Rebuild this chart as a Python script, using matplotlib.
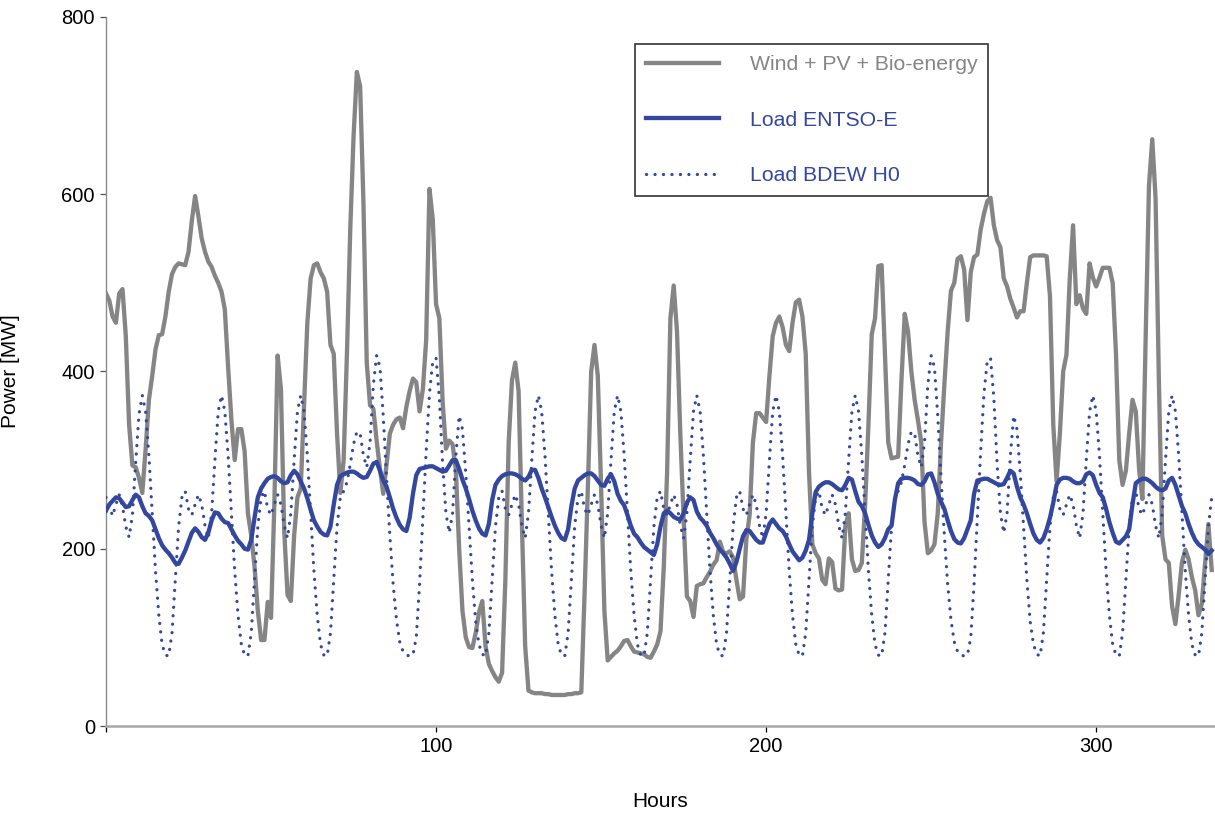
import numpy as np
import matplotlib
matplotlib.use("Agg")
import matplotlib.pyplot as plt

plt.rcParams['font.family'] = ['Liberation Sans', 'DejaVu Sans']

# ---------------- data (hourly, 14 days) ----------------
hours = np.arange(336)

res_generation = [
    488, 480, 462, 455, 488, 493, 440, 340, 294, 292, 280, 263, 312, 368, 395, 425, 441, 442, 462, 490, 510, 518, 522, 521,
    520, 535, 570, 598, 575, 550, 535, 524, 518, 508, 500, 490, 470, 405, 345, 300, 335, 335, 310, 240, 215, 180, 130, 97,
    97, 140, 122, 250, 418, 380, 220, 148, 141, 215, 258, 268, 360, 455, 505, 520, 522, 512, 505, 490, 430, 420, 330, 263,
    300, 420, 560, 665, 738, 722, 590, 410, 362, 358, 322, 290, 262, 295, 330, 340, 346, 348, 336, 360, 378, 392, 388, 355,
    380, 435, 606, 572, 476, 460, 365, 313, 322, 318, 288, 200, 130, 100, 89, 88, 105, 128, 141, 90, 70, 62, 55, 50,
    60, 165, 320, 390, 410, 378, 230, 90, 40, 38, 37, 37, 37, 36, 36, 35, 35, 35, 35, 35, 36, 36, 37, 37,
    38, 150, 270, 400, 430, 395, 270, 130, 74, 78, 82, 85, 90, 96, 97, 90, 84, 83, 82, 81, 78, 77, 84, 92,
    107, 180, 286, 460, 497, 445, 330, 235, 146, 141, 123, 158, 160, 161, 168, 174, 182, 187, 208, 196, 195, 197, 190, 165,
    143, 146, 210, 238, 320, 353, 353, 348, 343, 395, 440, 455, 462, 450, 430, 423, 455, 478, 481, 462, 420, 286, 205, 195,
    189, 165, 160, 189, 185, 155, 153, 154, 225, 240, 188, 175, 176, 184, 250, 340, 442, 460, 519, 520, 420, 320, 302, 303,
    304, 390, 465, 445, 400, 368, 345, 320, 230, 195, 198, 205, 240, 320, 385, 445, 491, 500, 527, 530, 515, 458, 512, 529,
    532, 560, 578, 592, 596, 565, 548, 540, 505, 496, 482, 472, 461, 468, 468, 500, 529, 531, 531, 531, 531, 530, 485, 340,
    276, 330, 400, 419, 505, 565, 476, 486, 471, 465, 522, 506, 496, 506, 517, 517, 517, 500, 420, 300, 272, 288, 330, 368,
    355, 290, 256, 440, 610, 662, 595, 389, 215, 188, 184, 135, 115, 148, 185, 199, 188, 168, 153, 125, 138, 184, 228, 176,
]

load_entsoe = [
    243, 250, 254, 258, 257, 252, 247, 248, 255, 261, 258, 248, 240, 237, 232, 222, 212, 204, 199, 195, 190, 184, 183, 190,
    198, 208, 218, 223, 219, 213, 210, 218, 232, 241, 240, 234, 230, 229, 222, 215, 209, 205, 200, 199, 210, 235, 258, 268,
    274, 279, 281, 282, 280, 276, 274, 275, 283, 288, 284, 276, 268, 257, 244, 232, 225, 219, 216, 215, 225, 250, 272, 282,
    284, 286, 287, 287, 285, 282, 280, 281, 288, 296, 298, 288, 277, 270, 258, 245, 235, 227, 222, 220, 235, 262, 283, 290,
    291, 292, 293, 293, 291, 289, 287, 288, 294, 300, 300, 290, 278, 268, 256, 243, 232, 223, 217, 215, 228, 255, 272, 278,
    282, 284, 285, 285, 284, 282, 279, 277, 281, 289, 289, 280, 268, 258, 247, 236, 226, 218, 212, 210, 222, 248, 268, 277,
    280, 283, 285, 285, 282, 277, 272, 271, 279, 284, 276, 262, 254, 249, 238, 226, 217, 213, 207, 202, 199, 196, 193, 205,
    225, 240, 243, 240, 236, 234, 233, 240, 252, 258, 255, 242, 235, 231, 226, 218, 212, 205, 199, 195, 190, 183, 175, 185,
    200, 214, 221, 220, 215, 210, 207, 207, 218, 228, 233, 228, 223, 220, 214, 205, 197, 192, 187, 190, 198, 210, 240, 264,
    270, 273, 275, 275, 273, 270, 267, 266, 272, 280, 278, 265, 253, 248, 240, 227, 215, 207, 202, 205, 212, 222, 226, 255,
    274, 279, 280, 280, 279, 277, 273, 272, 276, 284, 285, 275, 262, 253, 245, 232, 220, 211, 207, 206, 212, 222, 232, 262,
    277, 278, 279, 279, 277, 275, 273, 272, 273, 280, 288, 285, 270, 258, 250, 240, 228, 217, 210, 207, 212, 222, 235, 252,
    272, 278, 280, 280, 279, 276, 274, 274, 276, 284, 286, 283, 272, 263, 258, 245, 230, 218, 208, 206, 210, 214, 222, 250,
    274, 277, 279, 279, 277, 274, 270, 267, 266, 268, 277, 280, 272, 260, 248, 240, 228, 218, 210, 205, 202, 199, 194, 198,
]

load_bdew = [
    258, 248, 237, 250, 261, 248, 225, 213, 238, 298, 352, 373, 355, 305, 240, 175, 125, 92, 80, 79, 105, 165, 225, 258,
    265, 245, 238, 250, 261, 250, 226, 212, 240, 300, 355, 373, 355, 305, 240, 175, 125, 92, 80, 79, 105, 165, 225, 258,
    265, 245, 238, 250, 261, 250, 226, 212, 240, 300, 355, 373, 355, 305, 240, 175, 125, 92, 80, 79, 105, 165, 225, 258,
    265, 275, 295, 318, 332, 330, 305, 292, 320, 385, 418, 405, 350, 280, 215, 160, 120, 95, 84, 80, 79, 80, 100, 160,
    235, 310, 375, 412, 415, 370, 295, 240, 218, 240, 305, 350, 335, 285, 225, 165, 118, 92, 81, 79, 105, 165, 225, 258,
    265, 245, 238, 250, 261, 250, 226, 212, 240, 300, 355, 373, 355, 305, 240, 175, 125, 92, 80, 79, 105, 165, 225, 258,
    265, 245, 238, 250, 261, 250, 226, 212, 240, 300, 355, 373, 355, 305, 240, 175, 125, 92, 80, 79, 105, 165, 225, 258,
    265, 245, 238, 250, 261, 250, 226, 212, 240, 300, 355, 373, 355, 305, 240, 175, 125, 92, 80, 79, 105, 165, 225, 258,
    265, 245, 238, 250, 261, 250, 226, 212, 240, 300, 355, 373, 355, 305, 240, 175, 125, 92, 80, 79, 105, 165, 225, 258,
    265, 245, 238, 250, 261, 250, 226, 212, 240, 300, 355, 373, 355, 305, 240, 175, 125, 92, 80, 79, 105, 165, 225, 258,
    265, 275, 295, 318, 332, 330, 305, 292, 320, 385, 418, 405, 350, 280, 215, 160, 120, 95, 84, 80, 79, 80, 100, 160,
    235, 310, 375, 412, 415, 370, 295, 240, 218, 240, 305, 350, 335, 285, 225, 165, 118, 92, 81, 79, 105, 165, 225, 258,
    265, 245, 238, 250, 261, 250, 226, 212, 240, 300, 355, 373, 355, 305, 240, 175, 125, 92, 80, 79, 105, 165, 225, 258,
    265, 245, 238, 250, 261, 250, 226, 212, 240, 300, 355, 373, 355, 305, 240, 175, 125, 92, 80, 79, 105, 165, 225, 258,
]

labels = ["Wind + PV + Bio-energy", "Load ENTSO-E", "Load BDEW H0"]
y_ticks = [0, 200, 400, 600, 800]
x_ticks = [0, 100, 200, 300]
x_tick_labels = ["", "100", "200", "300"]

GRAY = "#858585"
BLUE = "#34479f"

# ---------------- figure ----------------
fig = plt.figure(figsize=(12.15, 8.13), dpi=100)
ax = fig.add_axes([106 / 1215, 87 / 813, 1109 / 1215, 709 / 813])

ax.plot(hours, res_generation, color=GRAY, lw=3.1, solid_joinstyle="round", label=labels[0], zorder=2)
ax.plot(hours, load_entsoe, color=BLUE, lw=3.1, solid_joinstyle="round", label=labels[1], zorder=3)
ax.plot(hours, load_bdew, color=BLUE, lw=2.3, linestyle=(0, (0.05, 2.6)), dash_capstyle="round",
        label=labels[2], zorder=3)

ax.set_xlim(0, 336)
ax.set_ylim(0, 800)
ax.set_yticks(y_ticks)
ax.set_xticks(x_ticks)
ax.set_xticklabels(x_tick_labels)

for s in ["top", "right"]:
    ax.spines[s].set_visible(False)
ax.spines["bottom"].set_color("#a8a8a8")
ax.spines["bottom"].set_linewidth(1.8)
ax.spines["left"].set_color("#8a8a8a")
ax.spines["left"].set_linewidth(1.0)

ax.tick_params(axis="both", labelsize=14.5, colors="black", length=4, width=0.9, pad=4)
ax.tick_params(axis="y", color="#555555")

ax.set_xlabel("Hours", fontsize=15, labelpad=26)
ax.set_ylabel("Power [MW]", fontsize=15, labelpad=30)

leg = ax.legend(loc="upper left", bbox_to_anchor=((635 - 106) / 1109, 1 - (44.5 - 17) / 709),
                borderaxespad=0, fontsize=15.3, frameon=True, fancybox=False,
                edgecolor="black", handlelength=3.45, handletextpad=1.45,
                labelspacing=1.72, borderpad=0.5)
leg.get_frame().set_linewidth(1.2)
for txt, col in zip(leg.get_texts(), [GRAY, BLUE, BLUE]):
    txt.set_color(col)

fig.savefig("out.png", dpi=100)
